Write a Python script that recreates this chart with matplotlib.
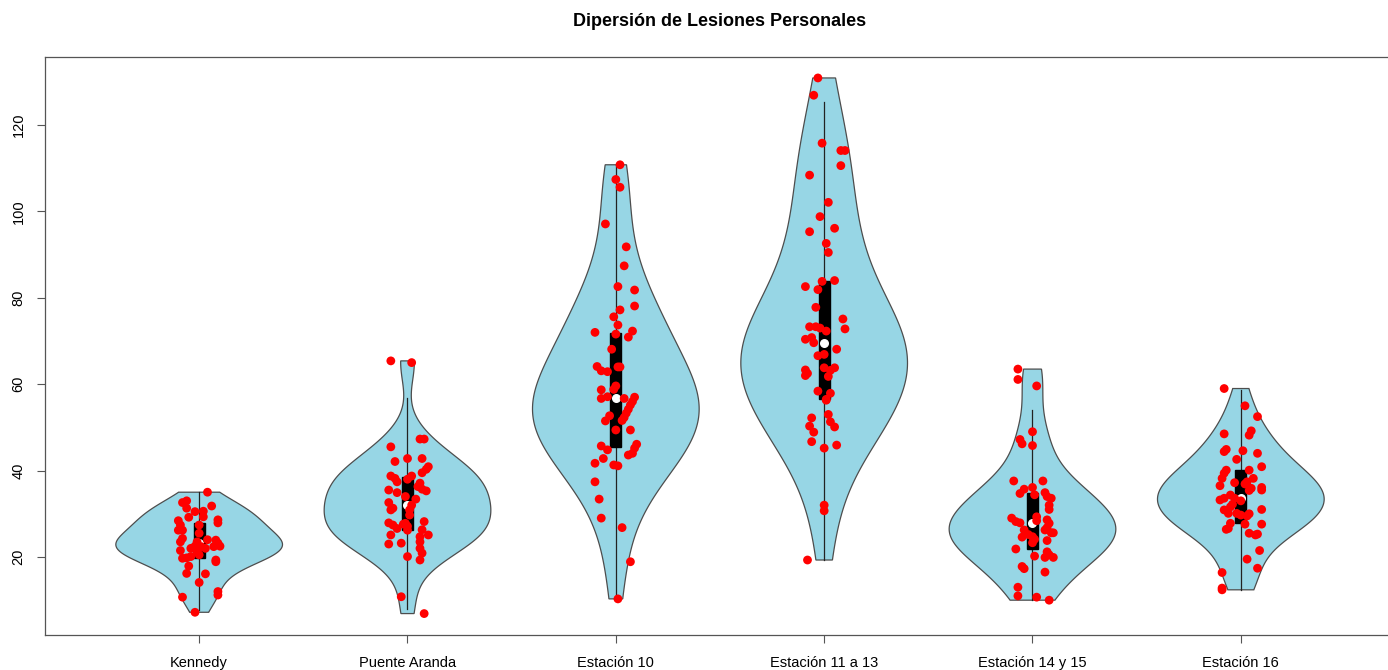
import numpy as np
import matplotlib
matplotlib.use("Agg")
import matplotlib.pyplot as plt

plt.rcParams['font.family'] = ['Liberation Sans', 'DejaVu Sans']

# estaciones
estaciones = ['Kennedy', 'Puente Aranda', 'Estación 10', 'Estación 11 a 13',
              'Estación 14 y 15', 'Estación 16']

# lesiones personales por estacion y jitter horizontal de cada punto
kennedy = [35.0, 32.6, 33.0, 31.8, 31.3, 30.5, 30.6, 29.3, 29.2, 28.6, 27.9, 28.4,
           27.4, 27.4, 26.2, 26.2, 25.5, 24.0, 24.3, 23.5, 23.9, 23.2, 23.5, 22.4,
           22.5, 22.0, 22.0, 22.4, 22.5, 21.5, 21.2, 20.5, 19.7, 19.8, 20.1, 19.3,
           18.9, 17.9, 16.1, 16.2, 14.1, 10.7, 12.0, 11.2, 7.2]
jit_kennedy = [.04, -.08, -.06, .06, -.06, -.02, .02, .02, -.05, .09, .09, -.10,
               .00, -.09, -.08, -.10, .00, .04, -.08, -.09, .08, .09, -.01, .01,
               -.02, -.04, .03, .07, .10, -.09, -.01, .00, -.08, -.06, -.04, .08,
               .08, -.05, .03, -.06, .00, -.08, .09, .09, -.02]

puente_aranda = [65.4, 65.0, 47.3, 47.3, 45.5, 42.8, 42.1, 42.8, 40.9, 40.3, 39.5,
                 38.75, 38.2, 37.4, 38.75, 38.0, 37.1, 36.3, 35.7, 35.3, 35.5, 34.9,
                 34.0, 33.4, 32.6, 32.0, 31.3, 30.9, 30.9, 29.7, 27.8, 27.9, 27.4,
                 26.6, 27.6, 27.1, 26.2, 28.2, 26.3, 25.1, 25.1, 24.7, 23.2, 23.0,
                 23.5, 22.0, 20.9, 20.1, 19.3, 10.8, 6.9]
jit_puente_aranda = [-.08, .02, .06, .08, -.08, .00, -.06, .07, .10, .09, .07,
                     -.08, -.06, -.05, .02, .00, .06, .05, .07, .09, -.09, -.05,
                     -.01, .04, -.09, .02, -.07, -.08, .01, .01, -.01, -.09, -.07,
                     -.05, -.02, .00, .00, .08, .07, -.08, .10, .06, -.03, -.09,
                     .06, .06, .07, .00, .06, -.03, .08]

estacion_10 = [110.8, 107.4, 105.6, 97.1, 91.8, 87.4, 82.6, 81.8, 78.1, 77.2, 75.6,
               73.7, 72.0, 71.6, 72.3, 70.9, 68.1, 64.1, 63.1, 62.9, 64.0, 64.0,
               59.6, 58.8, 58.7, 56.7, 57.1, 56.7, 57.0, 56.0, 55.2, 54.2, 53.3,
               52.3, 51.6, 52.7, 51.5, 49.4, 49.4, 45.7, 44.8, 46.1, 45.2, 44.0,
               43.6, 42.8, 41.7, 41.3, 41.1, 37.4, 33.4, 29.0, 26.8, 18.9, 10.3]
jit_estacion_10 = [.02, .00, .02, -.05, .05, .04, .01, .09, .09, .02, -.01,
                   .01, -.10, .00, .08, .06, -.02, -.09, -.07, -.04, .01, .02,
                   .00, -.01, -.07, -.07, -.04, .04, .09, .08, .07, .06, .05,
                   .04, .03, -.03, -.05, .00, .07, -.07, -.04, .10, .09, .08,
                   .06, -.06, -.10, -.01, .01, -.10, -.08, -.07, .03, .07, .01]

estacion_11_13 = [130.9, 126.9, 115.8, 114.1, 114.1, 110.6, 108.4, 102.1, 98.8, 96.1,
                  95.3, 92.6, 90.5, 84.0, 83.8, 82.6, 81.9, 77.8, 75.1, 72.8, 73.3,
                  73.3, 73.0, 72.3, 70.4, 70.8, 69.6, 68.1, 66.6, 66.9, 63.3, 62.5,
                  62.0, 63.8, 63.2, 63.8, 61.8, 58.4, 57.9, 56.5, 56.3, 53.0, 52.2,
                  50.3, 51.3, 50.1, 48.9, 46.7, 45.9, 45.2, 32.0, 30.7, 19.3]
jit_estacion_11_13 = [-.03, -.05, -.01, .08, .10, .08, -.07, .02, -.02, .05,
                      -.07, .01, .02, .05, -.01, -.09, -.03, -.04, .09, .10, -.07,
                      -.04, -.02, .01, -.09, -.06, -.05, .06, -.03, .00, -.09, -.08,
                      -.09, .05, .03, .00, .02, -.03, .03, .01, .01, .02, -.06,
                      -.07, .03, .05, -.05, -.06, .06, .00, .00, .00, -.08]

estacion_14_15 = [63.5, 61.1, 59.6, 49.0, 47.2, 46.2, 45.8, 37.6, 37.6, 36.1, 35.7,
                  34.7, 34.4, 34.9, 34.0, 33.6, 32.0, 31.0, 29.0, 28.2, 27.9, 29.3,
                  28.4, 28.6, 27.8, 26.8, 26.25, 26.25, 25.2, 24.7, 24.1, 25.6, 25.6,
                  24.6, 23.8, 23.3, 21.85, 21.2, 20.5, 19.9, 19.9, 20.2, 17.8, 17.3,
                  16.5, 13.0, 11.0, 10.7, 10.0]
jit_estacion_14_15 = [-.07, -.07, .02, .00, -.06, -.05, .00, -.09, .05, .00, -.04,
                      -.06, .01, .06, .07, .09, .08, .08, -.10, -.08, -.06, .02,
                      .02, .07, .08, .07, .06, -.04, -.02, .00, .01, .09, .10,
                      -.05, .07, .00, -.08, .07, .08, .10, .06, .01, -.05, -.04,
                      .06, -.07, -.07, .02, .08]

estacion_16 = [59.0, 55.0, 52.5, 49.2, 48.2, 48.5, 44.9, 44.4, 44.6, 44.0, 42.6,
               40.9, 40.1, 39.4, 38.2, 40.1, 38.2, 37.2, 37.4, 36.5, 36.1, 35.5,
               35.9, 35.4, 36.9, 34.35, 33.6, 33.2, 33.6, 33.0, 32.2, 31.6, 30.9,
               30.1, 31.0, 30.1, 29.7, 30.0, 29.5, 27.6, 27.8, 26.6, 26.4, 27.6,
               25.5, 25.1, 25.3, 21.5, 19.5, 17.4, 16.4, 12.8, 12.4]
jit_estacion_16 = [-.08, .02, .08, .05, .04, -.08, -.07, -.08, .01, .08, -.02,
                   .10, -.07, -.08, -.09, .04, .06, -.03, .03, -.10, .10, .10,
                   .05, .04, .02, -.05, -.08, -.10, -.03, .00, -.04, -.05, -.08,
                   -.06, .10, -.02, .00, .04, .03, .02, -.05, -.06, -.07, .10,
                   .04, .07, .08, .09, .03, .08, -.09, -.09, -.09]

datos = [kennedy, puente_aranda, estacion_10, estacion_11_13, estacion_14_15, estacion_16]
jitters = [jit_kennedy, jit_puente_aranda, jit_estacion_10, jit_estacion_11_13,
           jit_estacion_14_15, jit_estacion_16]


def densidad(x, grid):
    # kernel normal con ancho de banda "normal optimo" (como sm.density)
    x = np.asarray(x)
    h = np.std(x, ddof=1) * (4 / (3 * len(x))) ** 0.2
    z = (grid[:, None] - x[None, :]) / h
    return np.exp(-0.5 * z ** 2).sum(axis=1) / (len(x) * h * np.sqrt(2 * np.pi))


fig = plt.figure(figsize=(13.88, 6.70), dpi=100)
ax = fig.add_axes([45 / 1388, 35 / 670, 1350 / 1388, 578 / 670])

for i, (vals, jit) in enumerate(zip(datos, jitters)):
    pos = i + 1
    vals = np.asarray(vals)
    grid = np.linspace(vals.min(), vals.max(), 200)
    d = densidad(vals, grid)
    w = d / d.max() * 0.4
    ax.fill(np.concatenate([pos - w, (pos + w)[::-1]]),
            np.concatenate([grid, grid[::-1]]),
            facecolor='#97D6E5', edgecolor='#4d4d4d', lw=0.9, zorder=1)

    q1, med, q3 = np.percentile(vals, [25, 50, 75])
    iqr = q3 - q1
    upper = min(q3 + 1.5 * iqr, vals.max())
    lower = max(q1 - 1.5 * iqr, vals.min())
    ax.plot([pos, pos], [lower, upper], color='#222222', lw=0.9, zorder=2)
    ax.add_patch(plt.Rectangle((pos - 0.026, q1), 0.052, q3 - q1,
                               facecolor='black', edgecolor='black', zorder=3))
    ax.scatter([pos], [med], s=30, color='white', zorder=4)

    ax.scatter(pos + np.asarray(jit), vals, s=40, color='red', edgecolors='none', zorder=5)

ax.set_xlim(0.26, 6.74)
ax.set_ylim(1.94, 135.75)
ax.set_xticks(range(1, 7))
ax.set_xticklabels(estaciones, fontsize=10.5)
ax.set_yticks([20, 40, 60, 80, 100, 120])
ax.set_yticklabels(['20', '40', '60', '80', '100', '120'], rotation=90,
                   va='center', fontsize=10.5)
ax.tick_params(axis='both', length=6, width=0.8, color='#555555')
ax.tick_params(axis='x', pad=9)
ax.tick_params(axis='y', pad=8)
for s in ax.spines.values():
    s.set_color('#555555')
    s.set_linewidth(0.9)

fig.text(720 / 1388, 1 - 21 / 670, 'Dipersión de Lesiones Personales',
         ha='center', va='center', fontsize=13, fontweight='bold')

fig.savefig('out.png', dpi=100)
